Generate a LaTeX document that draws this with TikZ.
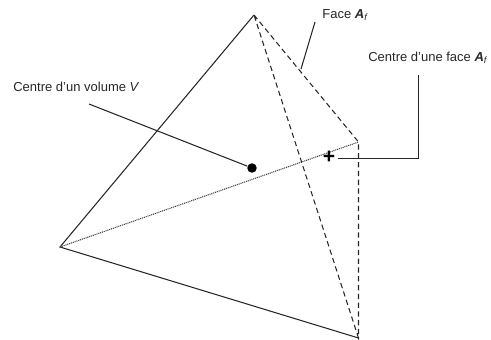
\documentclass[tikz,border=0pt]{standalone}
\usepackage{fontspec}
\setmainfont{Liberation Sans}
\newcommand{\facearea}{\textbf{\textit{A}}\textsubscript{\textit{f}}}
\tikzset{
  leader/.style={draw=black!85, line width=0.6pt},
  edgeback/.style={draw=black!85, line width=0.6pt, dash pattern=on 3pt off 2pt},
  edgehidden/.style={draw=black!75, line width=0.6pt, dash pattern=on 0.6pt off 0.5pt},
  lbl/.style={font=\fontsize{7.4}{9}\selectfont, text=black!85, inner sep=0pt}
}
\begin{document}
\begin{tikzpicture}[x=0.02cm, y=-0.02cm]
\useasboundingbox (0,0) rectangle (491,339);

% Define the vertices
\coordinate (top) at (254,15);
\coordinate (left) at (60,247);
\coordinate (bottom) at (358.5,338);
\coordinate (right) at (358.5,142);

% Plain edges
\draw[leader] (bottom) -- (left) -- (top);

% Dashed edges
\draw[edgeback] (top) -- (right) -- (bottom) -- (top);
\draw[edgehidden] (left) -- (right);

% Labels
\node[lbl, anchor=west] (volume) at (13,87) {Centre d'un volume \textit{V}};
\node[lbl, anchor=west] (face) at (322,15) {Face \facearea};
\node[lbl, anchor=west] (centre) at (368,58) {Centre d'une face \facearea};

% Mark the centres
\node[circle, fill=black, inner sep=0pt, minimum size=5.4pt] (dot) at (252,168) {};
\node[inner sep=0pt, font=\fontsize{12}{12}\bfseries\selectfont] (cross) at (329,157) {+};

% Leader lines
\coordinate (volumeend) at (89,104);
\coordinate (faceend) at (315,22);
\coordinate (faceedge) at (301,69);
\coordinate (centreend) at (418.5,75);
\coordinate (centrecorner) at (418.5,158.5);
\coordinate (crossend) at (338,158.5);
\draw[leader] (volumeend) -- (dot);
\draw[leader] (faceend) -- (faceedge);
\draw[leader] (centreend) -- (centrecorner) -- (crossend);
\end{tikzpicture}
\end{document}
